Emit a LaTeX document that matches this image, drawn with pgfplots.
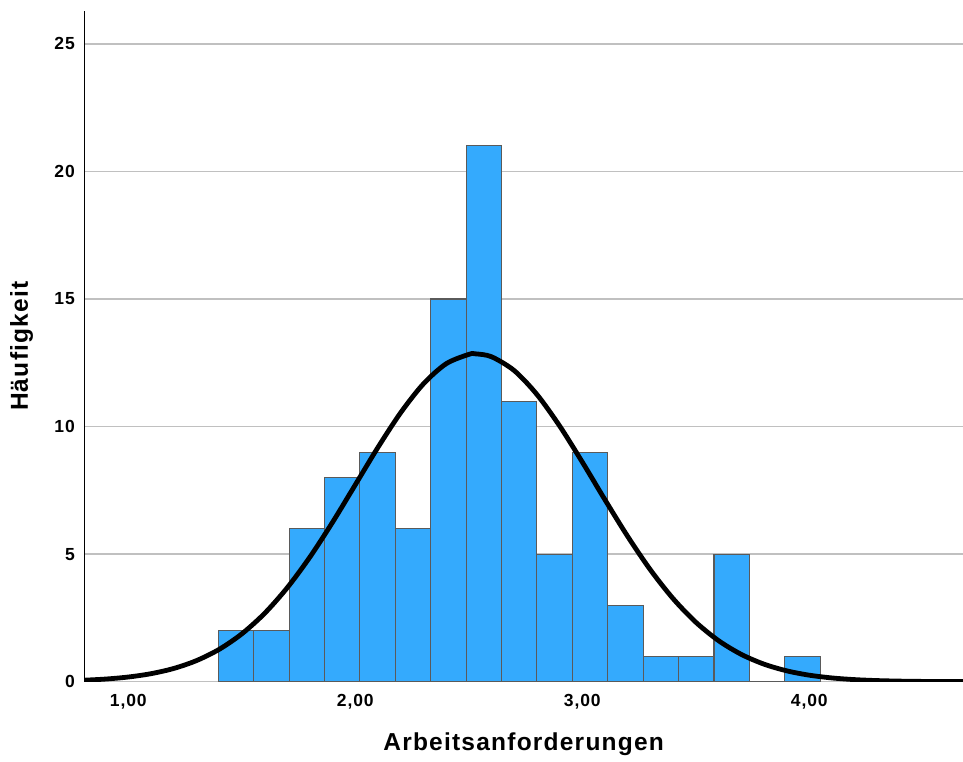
\documentclass[border=0pt]{standalone}
\usepackage{fontspec}
\setmainfont{Liberation Sans}
\newfontfamily\lblfont{Liberation Sans}[LetterSpace=5]
\newfontfamily\tickfont{Liberation Sans}[LetterSpace=5]
\usepackage{pgfplots}
\pgfplotsset{compat=1.18}
\definecolor{barblue}{RGB}{52,170,253}
\definecolor{bargray}{RGB}{90,90,90}
\definecolor{gridgray}{RGB}{192,192,192}
\begin{document}
\begin{tikzpicture}
\path[use as bounding box] (-84.3pt,-79.3pt) rectangle (878.7pt,681.7pt);
\begin{axis}[
  at={(0pt,0pt)}, anchor=south west,
  scale only axis,
  width=878.7pt, height=671pt,
  xmin=0.806, xmax=4.677,
  ymin=0, ymax=26.3,
  axis y line*=left,
  axis x line*=bottom,
  y axis line style={black, line width=1.2pt},
  x axis line style={gridgray, line width=1.2pt},
  xtick={1,2,3,4},
  xticklabels={{1,00},{2,00},{3,00},{4,00}},
  ytick={0,5,10,15,20,25},
  yticklabels={0,5,10,15,20,25},
  major tick length=0pt,
  ymajorgrids,
  grid style={gridgray, line width=1.5pt},
  xticklabel style={font=\tickfont\bfseries\fontsize{17.5}{19}\selectfont, anchor=north, inner sep=0pt, yshift=-12pt},
  yticklabel style={font=\tickfont\bfseries\fontsize{17.5}{19}\selectfont, anchor=east, inner sep=0pt, xshift=-9.3pt},
  xlabel={Arbeitsanforderungen},
  ylabel={Häufigkeit},
  xlabel style={at={(axis description cs:0.5,-0.1028)}, anchor=base, inner sep=0pt, font=\lblfont\bfseries\fontsize{24.5}{28}\selectfont},
  ylabel style={at={(axis description cs:-0.0641,0.5)}, anchor=base, inner sep=0pt, font=\lblfont\bfseries\fontsize{24.5}{28}\selectfont},
]
\addplot[ybar interval, fill=barblue, draw=bargray, line width=1.1pt] coordinates {
(1.396,2) (1.552,2) (1.708,6) (1.864,8) (2.020,9) (2.176,6) (2.332,15) (2.488,21)
(2.644,11) (2.800,5) (2.956,9) (3.112,3) (3.268,1) (3.424,1) (3.580,5) (3.736,0)
(3.892,1) (4.048,0)
};
\addplot[black, line width=4.8pt, smooth, line join=round] coordinates {
(0.8,0.0564) (0.9,0.1037) (1.0,0.1839) (1.1,0.3145) (1.2,0.519) (1.3,0.826)
(1.4,1.267) (1.5,1.876) (1.6,2.676) (1.7,3.683) (1.8,4.887) (1.9,6.255)
(2.0,7.720) (2.1,9.189) (2.2,10.547) (2.3,11.674) (2.4,12.462) (2.5,12.829)
(2.53,12.85) (2.6,12.736) (2.7,12.194) (2.8,11.258) (2.9,10.024) (3.0,8.607)
(3.1,7.127) (3.2,5.692) (3.3,4.383) (3.4,3.255) (3.5,2.331) (3.6,1.610)
(3.7,1.072) (3.8,0.689) (3.9,0.427) (4.0,0.255) (4.1,0.147) (4.2,0.0816)
(4.3,0.0437) (4.4,0.0226) (4.5,0.0113) (4.6,0.0054) (4.7,0.0025)
};
\end{axis}
\end{tikzpicture}
\end{document}
